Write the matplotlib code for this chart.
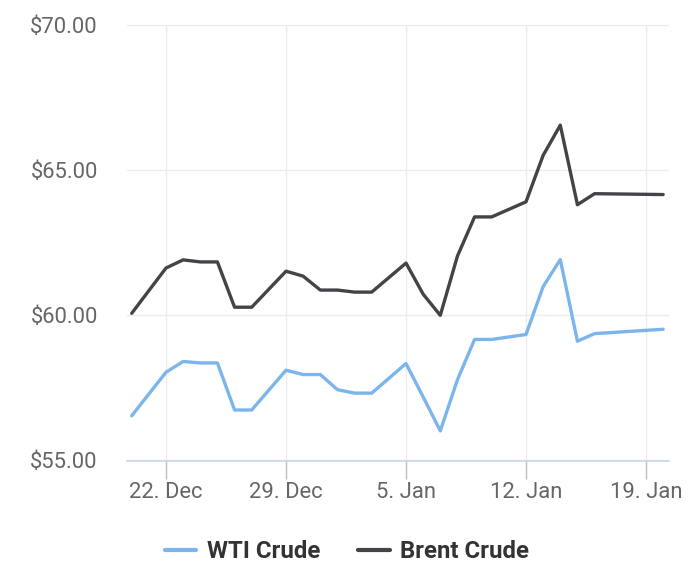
import matplotlib
matplotlib.use("Agg")
import matplotlib.pyplot as plt
import matplotlib.dates as mdates
from matplotlib.ticker import FuncFormatter, FixedLocator
import datetime as dt

dates = ["2025-12-20", "2025-12-22", "2025-12-23", "2025-12-24", "2025-12-25",
         "2025-12-26", "2025-12-27", "2025-12-29", "2025-12-30", "2025-12-31",
         "2026-01-01", "2026-01-02", "2026-01-03", "2026-01-05", "2026-01-06",
         "2026-01-07", "2026-01-08", "2026-01-09", "2026-01-10", "2026-01-12",
         "2026-01-13", "2026-01-14", "2026-01-15", "2026-01-16", "2026-01-20"]
wti = [56.54, 58.04, 58.41, 58.36, 58.36, 56.74, 56.74, 58.11, 57.96, 57.96,
       57.44, 57.32, 57.32, 58.34, 57.19, 56.02, 57.78, 59.17, 59.17, 59.34,
       60.99, 61.92, 59.11, 59.37, 59.52]
brent = [60.07, 61.63, 61.91, 61.84, 61.84, 60.28, 60.28, 61.52, 61.35, 60.87,
         60.87, 60.80, 60.80, 61.80, 60.73, 60.00, 62.04, 63.39, 63.39, 63.91,
         65.51, 66.55, 63.81, 64.19, 64.16]
tick_dates = ["2025-12-22", "2025-12-29", "2026-01-05", "2026-01-12", "2026-01-19"]
tick_labels = ["22. Dec", "29. Dec", "5. Jan", "12. Jan", "19. Jan"]
y_ticks = [55, 60, 65, 70]

plt.rcParams['font.family'] = ['Roboto', 'DejaVu Sans']

x = [dt.datetime.strptime(d, "%Y-%m-%d") for d in dates]
xt = [mdates.date2num(dt.datetime.strptime(d, "%Y-%m-%d")) for d in tick_dates]

fig = plt.figure(figsize=(7, 5.8), dpi=100)
ax = fig.add_axes([127/700, 1-460.5/580, (669-127)/700, (460.5-25)/580])

ax.plot(x, wti, color="#7cb5ec", lw=2.4, solid_joinstyle="round", solid_capstyle="round", label="WTI Crude", zorder=3)
ax.plot(x, brent, color="#434348", lw=2.4, solid_joinstyle="round", solid_capstyle="round", label="Brent Crude", zorder=3)

x0 = mdates.date2num(dt.datetime(2025, 12, 22)) - (166-127)/(120/7)
x1 = mdates.date2num(dt.datetime(2026, 1, 19)) + (669-646)/(120/7)
ax.set_xlim(x0, x1)
ax.set_ylim(55, 70)

ax.xaxis.set_major_locator(FixedLocator(xt))
ax.set_xticklabels(tick_labels)
ax.set_yticks(y_ticks)
ax.yaxis.set_major_formatter(FuncFormatter(lambda v, p: f"${v:.2f}"))

for s in ["top", "right", "left"]:
    ax.spines[s].set_visible(False)
ax.spines["bottom"].set_color("#ccd6eb")
ax.spines["bottom"].set_linewidth(1.2)

ax.grid(True, color="#ececec", lw=1.0, zorder=0)
ax.tick_params(axis="y", length=0, pad=21, labelsize=15.8, labelcolor="#666666")
ax.tick_params(axis="x", length=13, width=1, color="#bdbdbd", direction="out", pad=2.5, labelsize=15.8, labelcolor="#666666")

leg = ax.legend(loc="center", bbox_to_anchor=(347/700, 1-552/580), bbox_transform=fig.transFigure,
                ncol=2, frameon=False, handlelength=1.3, handletextpad=0.45, columnspacing=1.6,
                prop={"family": "Roboto", "weight": "bold", "size": 17.3})
for t in leg.get_texts():
    t.set_color("#333333")
for h in leg.get_lines():
    h.set_linewidth(3)

fig.savefig("out.png", dpi=100)
